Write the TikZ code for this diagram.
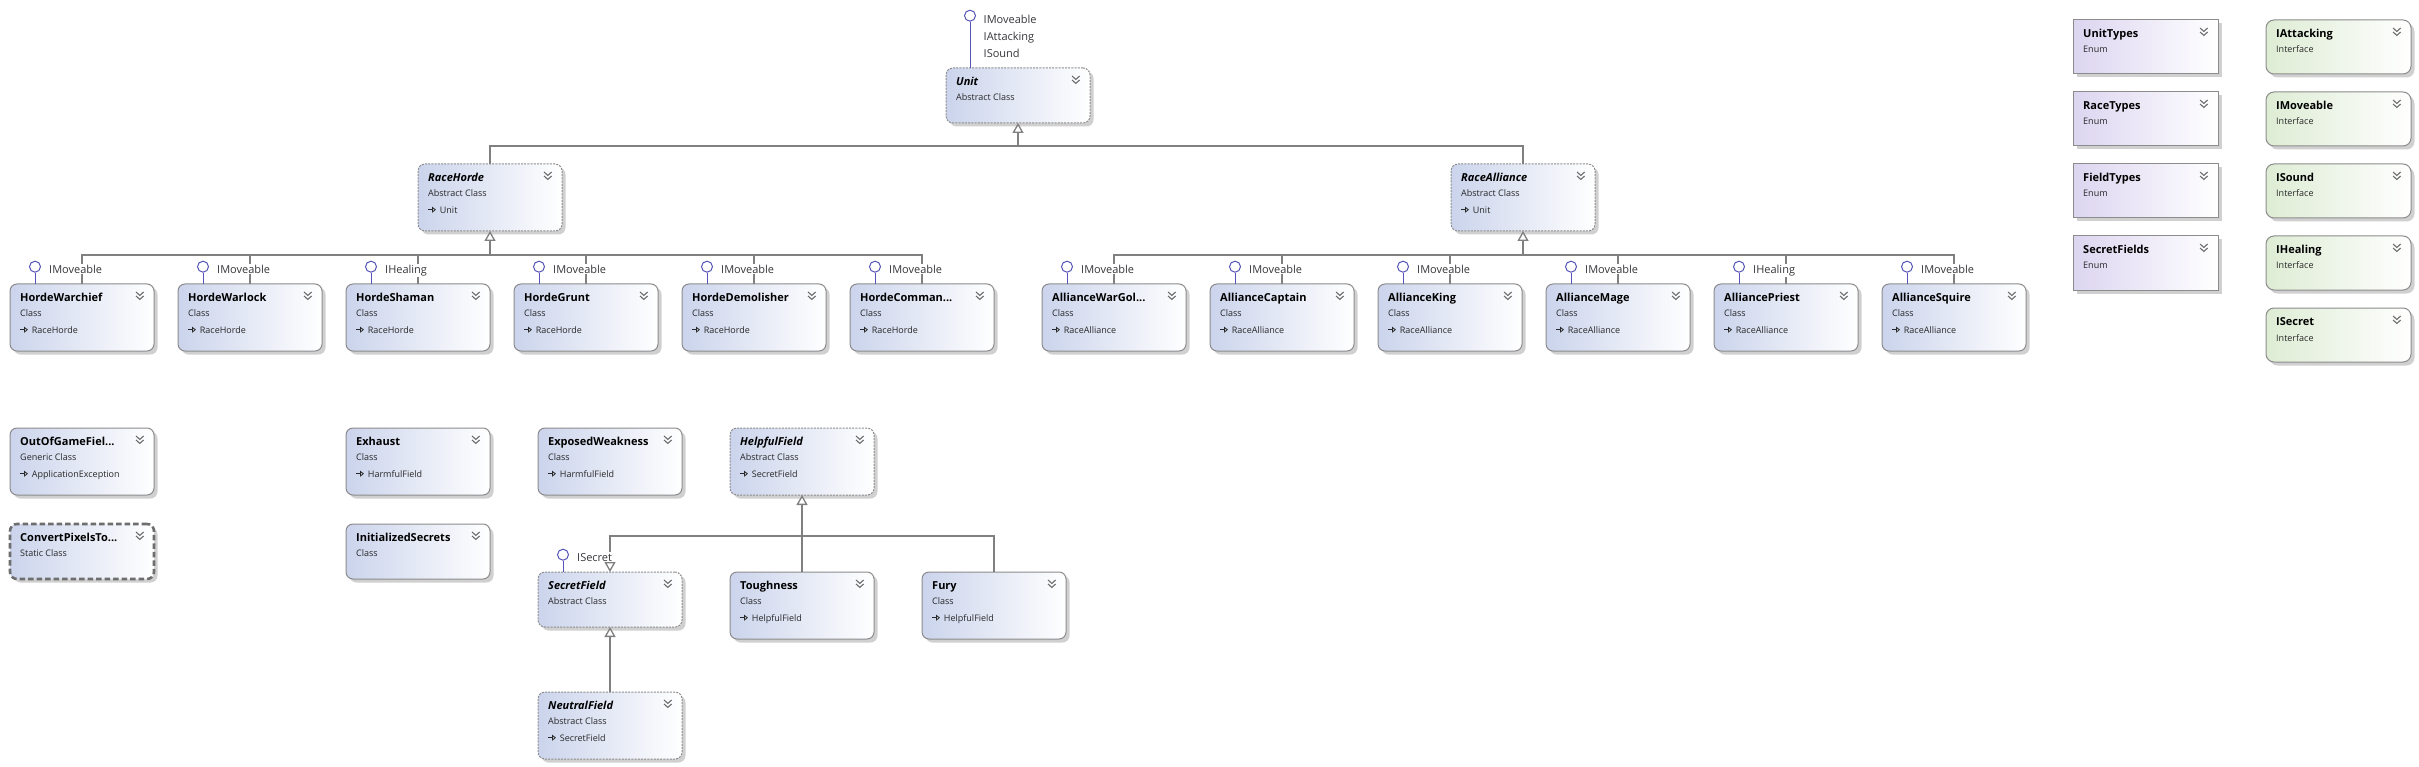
\documentclass[tikz,border=0pt]{standalone}
\usepackage{fontspec}
\setmainfont{Open Sans}
\usetikzlibrary{arrows.meta,shadows}

\definecolor{clsL}{RGB}{203,212,236}
\definecolor{enumL}{RGB}{220,213,240}
\definecolor{ifL}{RGB}{222,236,212}
\definecolor{borderc}{RGB}{140,140,140}
\definecolor{statc}{RGB}{110,110,110}
\definecolor{connc}{RGB}{128,128,128}
\definecolor{lollic}{RGB}{85,85,185}
\definecolor{lblc}{RGB}{55,55,60}
\definecolor{subc}{RGB}{40,40,40}
\definecolor{chevc}{RGB}{110,110,110}
\definecolor{shadowc}{RGB}{208,208,208}

\tikzset{
  boxcore/.style={anchor=north west, minimum width=144pt, inner sep=0pt, outer sep=0pt,
    left color=clsL, right color=white,
    drop shadow={shadow xshift=3.5pt, shadow yshift=-3.5pt, fill=shadowc, opacity=1}},
  clsbox/.style={boxcore, draw=borderc, line width=1pt, rounded corners=7pt},
  absbox/.style={boxcore, draw=borderc, line width=1pt, dash pattern=on 2pt off 1.2pt, rounded corners=7pt},
  statbox/.style={boxcore, draw=statc, line width=2.6pt, dash pattern=on 5.5pt off 3pt, rounded corners=7pt},
  enumbox/.style={boxcore, minimum width=145pt, left color=enumL, draw=borderc, line width=1pt},
  ifbox/.style={boxcore, minimum width=145pt, left color=ifL, draw=borderc, line width=1pt, rounded corners=8pt},
  ttl/.style={font=\fontsize{11}{13}\selectfont\bfseries, inner sep=0pt, text=black},
  sub/.style={font=\fontsize{9}{11}\selectfont, inner sep=0pt, text=subc},
  lbl/.style={font=\fontsize{11}{13}\selectfont, text=lblc, fill=white, inner sep=1pt},
  conn/.style={draw=connc, line width=1.3pt},
  gen/.style={-{Triangle[open, length=10pt, width=11pt, fill=white]}},
  lol/.style={draw=lollic, line width=1pt},
  lolc/.style={circle, draw=lollic, line width=1pt, minimum size=11pt, inner sep=0pt, fill=white},
  chevst/.style={draw=chevc, line width=1.1pt},
  baseic/.style={draw=subc, line width=0.8pt, -{Triangle[open, length=4pt, width=6pt]}},
}

\newcommand{\boxchev}[1]{%
  \draw[chevst] ([xshift=-18pt,yshift=-8pt]#1.north east) -- ++(3.8,3.4) -- ++(3.8,-3.4);
  \draw[chevst] ([xshift=-18pt,yshift=-12pt]#1.north east) -- ++(3.8,3.4) -- ++(3.8,-3.4);
}

% name, x, y, height, style, title, kind, base
\newcommand{\umlbox}[8]{%
  \node[#5, minimum height=#4pt] (#1) at (#2,#3) {};
  \node[ttl, anchor=base west] (#1-t) at ([xshift=10pt,yshift=-17.7pt]#1.north west) {#6};
  \node[sub, anchor=base west] (#1-k) at ([xshift=10pt,yshift=-32.7pt]#1.north west) {#7};
  \boxchev{#1}
  \if\relax\detokenize{#8}\relax\else
    \draw[baseic] ([xshift=10pt,yshift=-45.7pt]#1.north west) -- ([xshift=18pt,yshift=-45.7pt]#1.north west);
    \node[sub, anchor=base west] (#1-b) at ([xshift=21.7pt,yshift=-49.3pt]#1.north west) {#8};
  \fi
}

% name, x, y, style, title, kind
\newcommand{\smallbox}[6]{%
  \node[#4, minimum height=54pt] (#1) at (#2,#3) {};
  \node[ttl, anchor=base west] (#1-t) at ([xshift=10pt,yshift=-17.7pt]#1.north west) {#5};
  \node[sub, anchor=base west] (#1-k) at ([xshift=10pt,yshift=-33pt]#1.north west) {#6};
  \boxchev{#1}
}

% box name, dx, label
\newcommand{\lollipop}[3]{%
  \node[lolc] (#1-lc) at ([xshift=#2pt, yshift=17.3pt]#1.north west) {};
  \draw[lol] (#1-lc.south) -- (#1-lc.south |- #1.north);
  \node[lbl, anchor=base west] (#1-ll) at ([xshift=#2pt+13pt, yshift=10.7pt]#1.north west) {#3};
}

\begin{document}
\begin{tikzpicture}[x=1pt, y=-1pt]
\fill[white] (0,0) rectangle (2419,767);
\useasboundingbox (0,0) rectangle (2419,767);

% ---------- top hierarchy ----------
\umlbox{unit}{946}{68}{55}{absbox}{\itshape Unit}{Abstract Class}{}
\umlbox{racehorde}{418}{164}{67}{absbox}{\itshape RaceHorde}{Abstract Class}{Unit}
\umlbox{racealliance}{1451}{164}{67}{absbox}{\itshape RaceAlliance}{Abstract Class}{Unit}

\umlbox{hwarchief}{10}{284}{67}{clsbox}{HordeWarchief}{Class}{RaceHorde}
\umlbox{hwarlock}{178}{284}{67}{clsbox}{HordeWarlock}{Class}{RaceHorde}
\umlbox{hshaman}{346}{284}{67}{clsbox}{HordeShaman}{Class}{RaceHorde}
\umlbox{hgrunt}{514}{284}{67}{clsbox}{HordeGrunt}{Class}{RaceHorde}
\umlbox{hdemol}{682}{284}{67}{clsbox}{HordeDemolisher}{Class}{RaceHorde}
\umlbox{hcomm}{850}{284}{67}{clsbox}{HordeComman...}{Class}{RaceHorde}

\umlbox{awargol}{1042}{284}{67}{clsbox}{AllianceWarGol...}{Class}{RaceAlliance}
\umlbox{acaptain}{1210}{284}{67}{clsbox}{AllianceCaptain}{Class}{RaceAlliance}
\umlbox{aking}{1378}{284}{67}{clsbox}{AllianceKing}{Class}{RaceAlliance}
\umlbox{amage}{1546}{284}{67}{clsbox}{AllianceMage}{Class}{RaceAlliance}
\umlbox{apriest}{1714}{284}{67}{clsbox}{AlliancePriest}{Class}{RaceAlliance}
\umlbox{asquire}{1882}{284}{67}{clsbox}{AllianceSquire}{Class}{RaceAlliance}

% ---------- bottom part ----------
\umlbox{outofgame}{10}{428}{67}{clsbox}{OutOfGameFiel...}{Generic Class}{ApplicationException}
\umlbox{convertpx}{10}{524}{55}{statbox}{ConvertPixelsTo...}{Static Class}{}
\umlbox{exhaust}{346}{428}{67}{clsbox}{Exhaust}{Class}{HarmfulField}
\umlbox{initsecrets}{346}{524}{55}{clsbox}{InitializedSecrets}{Class}{}
\umlbox{exposedweak}{538}{428}{67}{clsbox}{ExposedWeakness}{Class}{HarmfulField}
\umlbox{helpfulfield}{730}{428}{67}{absbox}{\itshape HelpfulField}{Abstract Class}{SecretField}
\umlbox{secretfield}{538}{572}{55}{absbox}{\itshape SecretField}{Abstract Class}{}
\umlbox{toughness}{730}{572}{67}{clsbox}{Toughness}{Class}{HelpfulField}
\umlbox{fury}{922}{572}{67}{clsbox}{Fury}{Class}{HelpfulField}
\umlbox{neutralfield}{538}{692}{67}{absbox}{\itshape NeutralField}{Abstract Class}{SecretField}

% ---------- enums and interfaces ----------
\smallbox{unittypes}{2073}{20}{enumbox}{UnitTypes}{Enum}
\smallbox{racetypes}{2073}{92}{enumbox}{RaceTypes}{Enum}
\smallbox{fieldtypes}{2073}{164}{enumbox}{FieldTypes}{Enum}
\smallbox{secretfields}{2073}{236}{enumbox}{SecretFields}{Enum}

\smallbox{iattacking}{2266}{20}{ifbox}{IAttacking}{Interface}
\smallbox{imoveable}{2266}{92}{ifbox}{IMoveable}{Interface}
\smallbox{isound}{2266}{164}{ifbox}{ISound}{Interface}
\smallbox{ihealing}{2266}{236}{ifbox}{IHealing}{Interface}
\smallbox{isecret}{2266}{308}{ifbox}{ISecret}{Interface}

% ---------- connectors ----------
\coordinate (u-j) at (1018,146);
\coordinate (rh-j) at (490,255);
\coordinate (ra-j) at (1523,255);
\coordinate (hf-j) at (802,536);

\draw[conn, gen] (u-j) -- (unit.south);
\draw[conn] (racehorde.north) |- (u-j) -| (racealliance.north);

\draw[conn, gen] (rh-j) -- (racehorde.south);
\foreach \c in {hwarchief,hwarlock,hshaman,hgrunt,hdemol,hcomm}
  \draw[conn] (\c.north) |- (rh-j);

\draw[conn, gen] (ra-j) -- (racealliance.south);
\foreach \c in {awargol,acaptain,aking,amage,apriest,asquire}
  \draw[conn] (\c.north) |- (ra-j);

\draw[conn, gen] (toughness.north) -- (helpfulfield.south);
\draw[conn] (fury.north) |- (hf-j);
\draw[conn, gen] (hf-j) -| (secretfield.north);
\draw[conn, gen] (neutralfield.north) -- (secretfield.south);

% ---------- lollipops ----------
\node[lolc] (unit-lc) at (970,15.7) {};
\draw[lol] (unit-lc.south) -- (unit-lc.south |- unit.north);
\node[lbl, fill=none, anchor=base west] (unit-l1) at (982.5,24) {IMoveable};
\node[lbl, fill=none, anchor=base west] (unit-l2) at (982.5,41) {IAttacking};
\node[lbl, fill=none, anchor=base west] (unit-l3) at (982.5,58) {ISound};

\lollipop{hwarchief}{25}{IMoveable}
\lollipop{hwarlock}{25}{IMoveable}
\lollipop{hshaman}{25}{IHealing}
\lollipop{hgrunt}{25}{IMoveable}
\lollipop{hdemol}{25}{IMoveable}
\lollipop{hcomm}{25}{IMoveable}

\lollipop{awargol}{25}{IMoveable}
\lollipop{acaptain}{25}{IMoveable}
\lollipop{aking}{25}{IMoveable}
\lollipop{amage}{25}{IMoveable}
\lollipop{apriest}{25}{IHealing}
\lollipop{asquire}{25}{IMoveable}

\lollipop{secretfield}{25}{ISecret}
\end{tikzpicture}
\end{document}
